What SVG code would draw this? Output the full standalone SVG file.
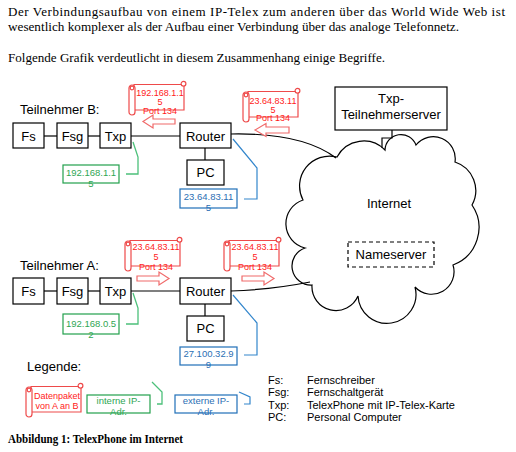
<svg xmlns="http://www.w3.org/2000/svg" xmlns:xlink="http://www.w3.org/1999/xlink" width="516" height="452" viewBox="0 0 516 452">
<style>
.para{font-family:"Liberation Serif","Times New Roman",serif;font-size:13px;fill:#000}
.cap{font-family:"Liberation Serif","Times New Roman",serif;font-size:11.5px;font-weight:bold;fill:#000}
.lbl{font-family:"Liberation Sans",Arial,sans-serif;font-size:13px;fill:#000}
.leg{font-family:"Liberation Sans",Arial,sans-serif;font-size:11px;fill:#000}
.box{fill:#fff;stroke:#000;stroke-width:1.2}
.c{text-anchor:middle}
.ln{fill:none;stroke:#000;stroke-width:1.2}
.gbox{fill:#fff;stroke:#22a04c;stroke-width:1.2}
.gln{fill:none;stroke:#4cc07a;stroke-width:1.3}
.gt{font-family:"Liberation Sans",Arial,sans-serif;font-size:9.5px;fill:#2fa653;text-anchor:middle}
.bbox{fill:#fff;stroke:#1f6fb8;stroke-width:1.2}
.bln{fill:none;stroke:#3386cc;stroke-width:1.2}
.bt{font-family:"Liberation Sans",Arial,sans-serif;font-size:9.5px;fill:#2c6fb4;text-anchor:middle}
.rt{font-family:"Liberation Sans",Arial,sans-serif;font-size:9px;fill:#ff1a1a;text-anchor:middle}
.scr{fill:#fff;stroke:#ee4a4a;stroke-width:1.2}
.arr{fill:#fff;stroke:#f06a6a;stroke-width:1.2}
</style>
<defs>
<g id="scroll">
<path class="scr" d="M5,3.5 H55 V29 H5 Z"/>
<circle class="scr" cx="54.5" cy="2.8" r="2.4"/>
<rect class="scr" x="0" y="4" width="6" height="30" rx="3"/>
<circle class="scr" cx="3" cy="7" r="1.8"/>
</g>
</defs>
<rect width="516" height="452" fill="#fff"/>

<g id="paragraph">
<text class="para" x="8" y="16" textLength="497" lengthAdjust="spacing">Der Verbindungsaufbau von einem IP-Telex zum anderen über das World Wide Web ist</text>
<text class="para" x="8" y="31" textLength="451" lengthAdjust="spacingAndGlyphs">wesentlich komplexer als der Aufbau einer Verbindung über das analoge Telefonnetz.</text>
<text class="para" x="8" y="62" textLength="377" lengthAdjust="spacingAndGlyphs">Folgende Grafik verdeutlicht in diesem Zusammenhang einige Begriffe.</text>
</g>

<g id="cloud">
<path fill="#fff" stroke="#000" stroke-width="1.2" d="M303,200 A30,30 0 0 1 337,157 A30,30 0 0 1 385,150 A16,16 0 0 1 416,145 A22,22 0 0 1 455,162 A30,30 0 0 1 472,205 A40,40 0 0 1 453,265 A22.5,22.5 0 0 1 415,287 A29,29 0 1 1 358,296 A24,24 0 0 1 312,285 A19,19 0 0 1 305,248 A25,25 0 0 1 303,200 Z"/>
<text class="lbl c" x="389" y="208">Internet</text>
</g>

<g id="connectors">
<line class="ln" x1="44" y1="136" x2="57" y2="136"/>
<line class="ln" x1="88" y1="136" x2="100" y2="136"/>
<line class="ln" x1="131" y1="136" x2="180" y2="136"/>
<line class="ln" x1="205" y1="148" x2="205" y2="160"/>
<path class="ln" d="M231,134 C280,133 315,142 336,158"/>
<path class="ln" d="M392,130 V138 H382 V148"/>
<line class="ln" x1="44" y1="291" x2="57" y2="291"/>
<line class="ln" x1="88" y1="291" x2="100" y2="291"/>
<line class="ln" x1="131" y1="291" x2="180" y2="291"/>
<line class="ln" x1="205" y1="304" x2="205" y2="316"/>
<path class="ln" d="M231,291 C260,290 285,287 310,282"/>
<path class="gln" d="M133,142 L138,157 V174 H126"/>
<path class="bln" d="M233,139 L257,168 V199 H244"/>
<path class="gln" d="M133,293 L138,308 V324 H126"/>
<path class="bln" d="M233,295 L257,323 V355 H244"/>
<path class="gln" d="M152,382 L162,392 V404 H157"/>
<path class="bln" d="M239,392 L250,397 V404 H244"/>
</g>

<g id="server">
<rect class="box" x="335" y="87" width="112" height="43"/>
<text class="lbl c" x="391" y="103">Txp-</text>
<text class="lbl c" x="391" y="119">Teilnehmerserver</text>
</g>
<g id="nameserver">
<rect x="348" y="242" width="86" height="25" fill="#fff" stroke="#000" stroke-width="1.2" stroke-dasharray="4,3"/>
<text class="lbl c" x="391" y="259">Nameserver</text>
</g>

<text class="lbl" x="20" y="114">Teilnehmer B:</text>
<g id="b-fs"><rect class="box" x="13" y="123" width="31" height="25"/><text class="lbl c" x="28.5" y="140.5">Fs</text></g>
<g id="b-fsg"><rect class="box" x="57" y="123" width="31" height="25"/><text class="lbl c" x="72.5" y="140.5">Fsg</text></g>
<g id="b-txp"><rect class="box" x="100" y="123" width="31" height="25"/><text class="lbl c" x="115.5" y="140.5">Txp</text></g>
<g id="b-router"><rect class="box" x="180" y="123" width="51" height="25"/><text class="lbl c" x="205.5" y="140.5">Router</text></g>
<g id="b-pc"><rect class="box" x="187" y="160" width="37" height="25"/><text class="lbl c" x="205.5" y="177">PC</text></g>
<g id="b-int"><rect class="gbox" x="63" y="165" width="56" height="18"/><text class="gt" x="91" y="176">192.168.1.1</text><text class="gt" x="91" y="187">5</text></g>
<g id="b-ext"><rect class="bbox" x="180" y="189" width="57" height="19"/><text class="bt" x="208.5" y="200">23.64.83.11</text><text class="bt" x="208.5" y="211">5</text></g>

<g id="b-packet1">
<use xlink:href="#scroll" transform="translate(129,81)"/>
<text class="rt" x="160" y="96">192.168.1.1</text><text class="rt" x="160" y="105">5</text><text class="rt" x="160" y="114">Port 134</text>
<path class="arr" d="M175,119 H153 V115 L143,121.5 L153,128 V124 H175 Z"/>
</g>
<g id="b-packet2">
<use xlink:href="#scroll" transform="translate(243,88)"/>
<text class="rt" x="273" y="104">23.64.83.11</text><text class="rt" x="273" y="112.5">5</text><text class="rt" x="273" y="121">Port 134</text>
<path class="arr" d="M289,127 H266 V123.5 L255,130 L266,136.5 V133 H289 Z"/>
</g>

<text class="lbl" x="20" y="270">Teilnehmer A:</text>
<g id="a-fs"><rect class="box" x="13" y="278" width="31" height="26"/><text class="lbl c" x="28.5" y="296">Fs</text></g>
<g id="a-fsg"><rect class="box" x="57" y="278" width="31" height="26"/><text class="lbl c" x="72.5" y="296">Fsg</text></g>
<g id="a-txp"><rect class="box" x="100" y="278" width="31" height="26"/><text class="lbl c" x="115.5" y="296">Txp</text></g>
<g id="a-router"><rect class="box" x="180" y="278" width="51" height="26"/><text class="lbl c" x="205.5" y="296">Router</text></g>
<g id="a-pc"><rect class="box" x="187" y="316" width="37" height="25"/><text class="lbl c" x="205.5" y="333">PC</text></g>
<g id="a-int"><rect class="gbox" x="63" y="314" width="56" height="20"/><text class="gt" x="91" y="327">192.168.0.5</text><text class="gt" x="91" y="338">2</text></g>
<g id="a-ext"><rect class="bbox" x="180" y="347" width="57" height="18"/><text class="bt" x="208.5" y="357">27.100.32.9</text><text class="bt" x="208.5" y="368">9</text></g>

<g id="a-packet1">
<use xlink:href="#scroll" transform="translate(125,237)"/>
<text class="rt" x="156" y="250">23.64.83.11</text><text class="rt" x="156" y="260">5</text><text class="rt" x="156" y="270">Port 134</text>
<path class="arr" d="M137,276 H159 V272 L169,278.5 L159,285 V281 H137 Z"/>
</g>
<g id="a-packet2">
<use xlink:href="#scroll" transform="translate(224,237)"/>
<text class="rt" x="255" y="250">23.64.83.11</text><text class="rt" x="255" y="260">5</text><text class="rt" x="255" y="270">Port 134</text>
<path class="arr" d="M242,276 H264 V272 L274,278.5 L264,285 V281 H242 Z"/>
</g>

<g id="legend">
<text class="lbl" x="27" y="371">Legende:</text>
<g id="leg-packet">
<use xlink:href="#scroll" transform="translate(26,383)"/>
<text class="rt" x="57" y="399">Datenpaket</text><text class="rt" x="57" y="409">von A an B</text>
</g>
<g id="leg-int"><rect class="gbox" x="87" y="395" width="63" height="18"/><text class="gt" x="118.5" y="404">interne IP-</text><text class="gt" x="118.5" y="415">Adr.</text></g>
<g id="leg-ext"><rect class="bbox" x="175" y="395" width="62" height="18"/><text class="bt" x="206" y="404">externe IP-</text><text class="bt" x="206" y="415">Adr.</text></g>
<text class="leg" x="268" y="384">Fs:</text><text class="leg" x="307" y="384">Fernschreiber</text>
<text class="leg" x="268" y="396">Fsg:</text><text class="leg" x="307" y="396">Fernschaltgerät</text>
<text class="leg" x="268" y="408.5">Txp:</text><text class="leg" x="307" y="408.5">TelexPhone mit IP-Telex-Karte</text>
<text class="leg" x="268" y="421">PC:</text><text class="leg" x="307" y="421">Personal Computer</text>
</g>

<text class="cap" x="8" y="443" textLength="175" lengthAdjust="spacingAndGlyphs">Abbildung 1: TelexPhone im Internet</text>
</svg>
